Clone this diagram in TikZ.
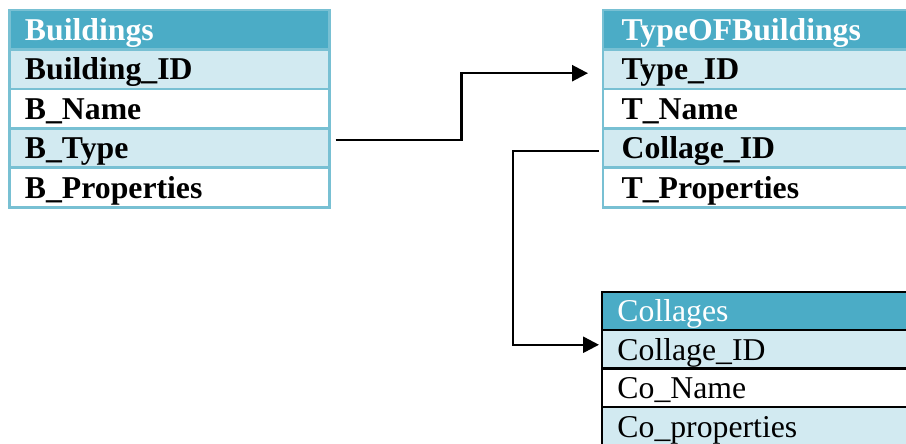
\documentclass[tikz,border=0pt]{standalone}
\usepackage{fontspec}
\setmainfont{Liberation Serif}
\usetikzlibrary{positioning,calc,arrows.meta}
\definecolor{headblue}{RGB}{75,172,198}
\definecolor{rowblue}{RGB}{210,234,241}
\definecolor{edgeblue}{RGB}{120,192,211}
\tikzset{
  tbl/.style={rectangle,draw=edgeblue,line width=2.1pt,outer sep=0pt,inner ysep=0pt,inner xsep=11.6pt,
    text width=216.8pt,minimum height=29.6pt,text height=18pt,text depth=1.8pt,align=left,
    font=\bfseries\fontsize{23.8}{28}\selectfont,anchor=north west},
  wide/.style={inner xsep=14pt,text width=260pt},
  plain/.style={tbl,draw=black,line width=1.7pt,font=\fontsize{23.8}{28}\selectfont,text width=260pt,minimum height=28.9pt},
  head/.style={fill=headblue,text=white},
  odd/.style={fill=rowblue},
  even/.style={fill=white},
  link/.style={->,>={Triangle[length=12pt,width=12pt]},line width=1.9pt}
}
\begin{document}
\begin{tikzpicture}[x=0.75pt,y=0.75pt]
  \useasboundingbox (0,0) rectangle (906,443);
  \clip (0,0) rectangle (906,443);
  % Buildings
  \node[tbl,head] (bHead) at (9.5,433) {Buildings};
  \node[tbl,odd,below=0pt of bHead] (bID) {Building\_ID};
  \node[tbl,even,below=0pt of bID] (bName) {B\_Name};
  \node[tbl,odd,below=0pt of bName] (bType) {B\_Type};
  \node[tbl,even,below=0pt of bType] (bProp) {B\_Properties};
  % TypeOFBuildings
  \node[tbl,wide,head] (tHead) at (603,433) {TypeOFBuildings};
  \node[tbl,wide,odd,below=0pt of tHead] (tID) {Type\_ID};
  \node[tbl,wide,even,below=0pt of tID] (tName) {T\_Name};
  \node[tbl,wide,odd,below=0pt of tName] (tColl) {Collage\_ID};
  \node[tbl,wide,even,below=0pt of tColl] (tProp) {T\_Properties};
  % Collages
  \node[plain,head,minimum height=28.5pt] (cHead) at (602,151) {Collages};
  \node[plain,odd,below=0pt of cHead] (cID) {Collage\_ID};
  \node[plain,even,below=0pt of cID] (cName) {Co\_Name};
  \node[plain,odd,below=0pt of cName] (cProp) {Co\_properties};
  % Links
  \draw[link] ($(bType.east)+(6,8)$) -- ++(126,0) |- ($(tID.west)+(-15,-4)$);
  \draw[link] ($(tColl.west)+(-4,-3)$) -- ++(-86,0) |- ($(cID.west)+(-3,4.5)$);
\end{tikzpicture}
\end{document}
